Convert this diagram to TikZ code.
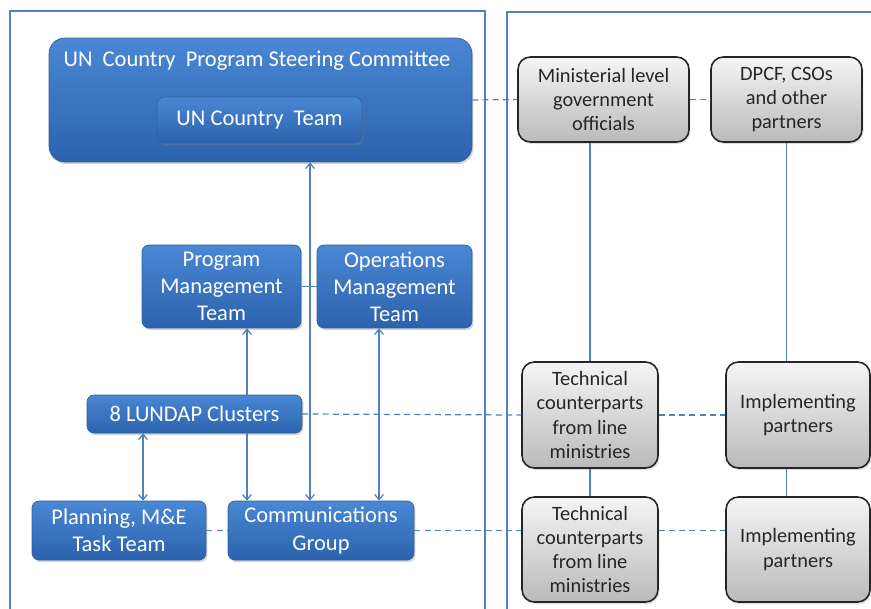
\documentclass[tikz,border=0pt]{standalone}
\usepackage{fontspec}
\setmainfont{Carlito}
\usetikzlibrary{arrows.meta,shadows}

\definecolor{linkblue}{HTML}{4F81BD}
\definecolor{boxtop}{HTML}{4A87D4}
\definecolor{boxbottom}{HTML}{2C62AD}
\definecolor{boxline}{HTML}{2F5F9F}

\begin{document}
\begin{tikzpicture}[%
    x=0.02cm, y=-0.02cm,
    bluebox/.style={
        rectangle,
        rounded corners = 4pt,
        draw = boxline,
        top color = boxtop,
        bottom color = boxbottom,
        drop shadow = {opacity=0.35, shadow xshift=0.8pt, shadow yshift=-1.2pt},
        text = white,
        align = center,
        inner sep = 0pt,
        font = \fontsize{12.8}{15.4}\selectfont
        },
    graybox/.style={
        rectangle,
        rounded corners = 7pt,
        draw = black!85,
        line width = 0.9pt,
        top color = black!4,
        bottom color = black!27,
        drop shadow = {opacity=0.25, shadow xshift=0.8pt, shadow yshift=-1.2pt},
        text = black!85,
        align = center,
        inner sep = 0pt,
        minimum width = 2.72cm,
        font = \fontsize{11.6}{13.8}\selectfont
        },
    frame/.style={draw=linkblue, line width=0.85pt},
    link/.style={draw=linkblue, line width=0.7pt},
    dashlink/.style={link, dash pattern=on 3.4pt off 2.4pt},
    arr/.style={link, -{Straight Barb[length=3pt,width=5pt]}},
    both/.style={link, {Straight Barb[length=3pt,width=5pt]}-{Straight Barb[length=3pt,width=5pt]}},
]

\clip (0,0) rectangle (871,608);

% the two frames
\draw[frame] (10,640) -- (10,11) -- (485,11) -- (485,640);
\draw[frame] (507,640) -- (507,12) -- (900,12);

% UN side
\node[bluebox, rounded corners=9pt, minimum width=8.46cm, minimum height=2.48cm]
    (upc) at (260.5,100) {};
\node[text=white, font=\fontsize{12.8}{15}\selectfont]
    (upct) at (257,61) {UN~~Country~~Program Steering Committee};
\node[bluebox, minimum width=4.1cm, minimum height=0.92cm]
    (uct) at (259.5,120) {UN Country~~Team};

\node[bluebox, minimum width=3.18cm, minimum height=1.66cm]
    (pmt) at (221.5,286.5) {Program\\Management\\Team};
\node[bluebox, minimum width=3.1cm, minimum height=1.66cm]
    (omt) at (394.5,286.5) {Operations\\Management\\Team};
\node[bluebox, minimum width=4.3cm, minimum height=0.76cm]
    (lun) at (194.5,414) {8 LUNDAP Clusters};
\node[bluebox, minimum width=3.48cm, minimum height=1.18cm]
    (pme) at (119,530.5) {Planning, M\&E\\Task Team};
\node[bluebox, minimum width=3.72cm, minimum height=1.18cm]
    (cg) at (321,530.5) {Communications\\Group};

% government and partners side
\node[graybox, minimum width=3.42cm, minimum height=1.7cm]
    (mgo) at (603.5,99.5) {Ministerial level\\government\\officials};
\node[graybox, minimum width=3.02cm, minimum height=1.7cm]
    (dpcf) at (786.5,99.5) {DPCF, CSOs\\and other\\partners};
\node[graybox, minimum height=2.12cm]
    (tc1) at (590,415) {Technical\\counterparts\\from line\\ministries};
\node[graybox, minimum width=2.88cm, minimum height=2.12cm]
    (ip1) at (798,415) {Implementing\\partners};
\node[graybox, minimum height=2.1cm]
    (tc2) at (590,549.5) {Technical\\counterparts\\from line\\ministries};
\node[graybox, minimum width=2.88cm, minimum height=2.1cm]
    (ip2) at (798,549.5) {Implementing\\partners};

% arrows inside the UN side
\coordinate (cgx) at ([xshift=-0.22cm]cg.north);
\coordinate (pmtx) at ([xshift=0.51cm]pmt.south);
\coordinate (pmex) at ([xshift=0.48cm]pme.north);
\coordinate (omtx) at ([xshift=-0.31cm]omt.south);

\draw[link] (pmt.east) -- (omt.west);
\draw[both] (cgx) -- (upc.south -| cgx);
\draw[arr] (lun.north -| pmtx) -- (pmtx);
\draw[arr] (lun.south -| pmtx) -- (cg.north -| pmtx);
\draw[both] (lun.south -| pmex) -- (pmex);
\draw[both] (omtx) -- (cg.north -| omtx);
\draw[dashlink] (pme.east) -- (cg.west);

% links across
\draw[dashlink] (upc.east) -- (mgo.west);
\draw[dashlink] (mgo.east) -- (dpcf.west);
\draw[dashlink] (lun.east) -- (tc1.west);
\draw[dashlink] (tc1.east) -- (ip1.west);
\draw[dashlink] (cg.east) -- (cg.east -| tc2.west);
\draw[dashlink] (tc2.east |- cg.east) -- (ip2.west |- cg.east);

\draw[link] (mgo.south -| tc1.north) -- (tc1.north);
\draw[link] (tc1.south) -- (tc2.north);
\draw[link] (dpcf.south) -- (ip1.north -| dpcf.south);
\draw[link] (ip1.south -| dpcf.south) -- (ip2.north -| dpcf.south);
\end{tikzpicture}
\end{document}
